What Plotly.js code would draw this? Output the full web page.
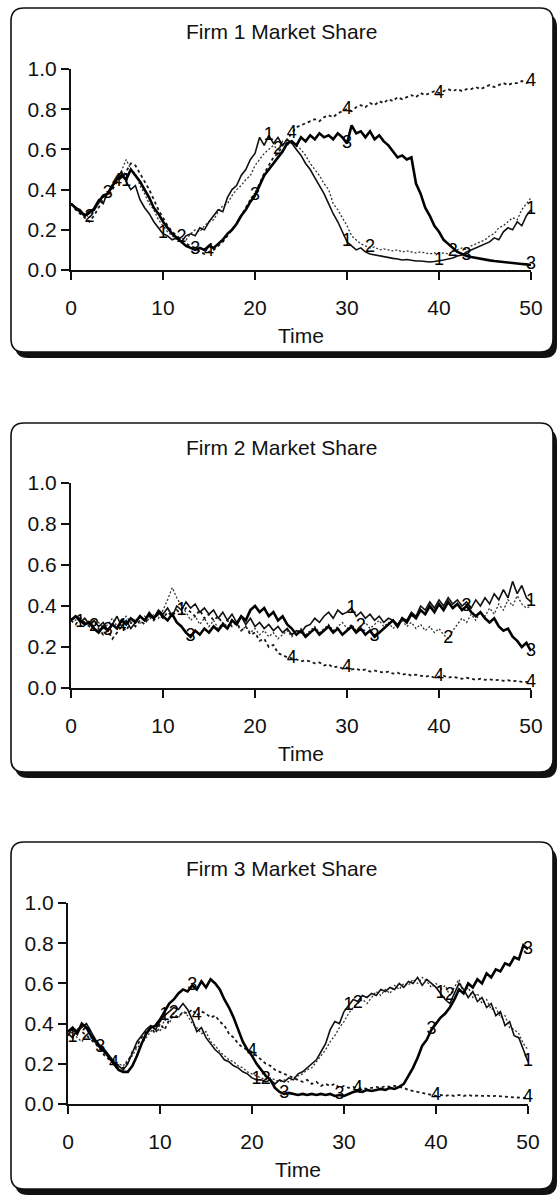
<!DOCTYPE html>
<html><head><meta charset="utf-8">
<script src="https://cdn.plot.ly/plotly-3.0.1.min.js"></script>
<style>html,body{margin:0;padding:0;background:#fff}#chart{width:558px;height:1195px}</style>
</head><body><div id="chart"></div>
<script>
// ---------- DATA ----------
const time = Array.from({length: 101}, (_, i) => i / 2); // 0, 0.5, ... 50
const xTickVals = [0, 10, 20, 30, 40, 50];
const yTickVals = [0, 0.2, 0.4, 0.6, 0.8, 1.0];
const panelTitles = ['Firm 1 Market Share', 'Firm 2 Market Share', 'Firm 3 Market Share'];
const xAxisTitle = 'Time';
const seriesNames = ['1', '2', '3', '4'];

// Firm 1 market share, runs 1-4
const firm1Run1 = [0.33,0.31,0.30,0.27,0.28,0.31,0.35,0.33,0.39,0.41,
  0.46,0.49,0.44,0.40,0.42,0.35,0.31,0.28,0.24,0.21,
  0.18,0.17,0.15,0.16,0.14,0.17,0.18,0.17,0.21,0.20,
  0.24,0.27,0.30,0.29,0.36,0.40,0.42,0.47,0.50,0.55,
  0.58,0.66,0.62,0.67,0.63,0.66,0.62,0.65,0.63,0.60,
  0.57,0.53,0.50,0.46,0.42,0.38,0.33,0.28,0.24,0.19,
  0.14,0.12,0.10,0.11,0.09,0.08,0.075,0.07,0.065,0.06,
  0.058,0.055,0.05,0.052,0.048,0.045,0.045,0.042,0.04,0.042,
  0.045,0.05,0.055,0.06,0.07,0.075,0.09,0.10,0.11,0.12,
  0.13,0.14,0.16,0.15,0.19,0.21,0.20,0.24,0.22,0.27,
  0.30];
const firm1Run2 = [0.33,0.30,0.29,0.28,0.26,0.30,0.33,0.36,0.38,0.42,
  0.44,0.50,0.55,0.50,0.48,0.42,0.38,0.33,0.30,0.25,
  0.22,0.19,0.17,0.15,0.16,0.15,0.18,0.20,0.19,0.22,
  0.24,0.25,0.29,0.32,0.33,0.37,0.40,0.42,0.45,0.47,
  0.52,0.55,0.58,0.60,0.62,0.60,0.64,0.62,0.64,0.62,
  0.60,0.57,0.53,0.50,0.47,0.43,0.40,0.33,0.30,0.26,
  0.22,0.17,0.15,0.13,0.12,0.11,0.115,0.10,0.105,0.10,
  0.095,0.10,0.09,0.095,0.09,0.085,0.09,0.085,0.08,0.085,
  0.08,0.085,0.08,0.09,0.10,0.11,0.10,0.12,0.13,0.14,
  0.15,0.17,0.18,0.21,0.22,0.24,0.26,0.25,0.30,0.33,
  0.36];
const firm1Run3 = [0.33,0.31,0.29,0.27,0.29,0.30,0.34,0.37,0.38,0.42,
  0.45,0.47,0.45,0.50,0.47,0.44,0.40,0.36,0.31,0.28,
  0.24,0.21,0.18,0.16,0.14,0.12,0.11,0.10,0.11,0.10,
  0.12,0.11,0.13,0.15,0.18,0.20,0.23,0.27,0.30,0.34,
  0.37,0.42,0.47,0.50,0.53,0.56,0.59,0.63,0.64,0.62,
  0.66,0.64,0.67,0.65,0.68,0.66,0.67,0.65,0.68,0.66,
  0.63,0.72,0.68,0.69,0.66,0.69,0.65,0.67,0.64,0.62,
  0.59,0.56,0.57,0.55,0.56,0.43,0.38,0.31,0.27,0.22,
  0.19,0.15,0.13,0.11,0.09,0.08,0.07,0.065,0.06,0.055,
  0.05,0.048,0.045,0.042,0.04,0.038,0.035,0.033,0.03,0.028,
  0.025];
const firm1Run4 = [0.33,0.30,0.28,0.26,0.24,0.27,0.31,0.35,0.37,0.40,
  0.44,0.46,0.49,0.53,0.52,0.48,0.44,0.40,0.35,0.30,
  0.26,0.22,0.19,0.17,0.15,0.13,0.12,0.11,0.09,0.08,
  0.09,0.10,0.12,0.14,0.17,0.20,0.23,0.27,0.31,0.35,
  0.38,0.43,0.48,0.52,0.56,0.58,0.62,0.65,0.68,0.71,
  0.72,0.73,0.74,0.75,0.74,0.76,0.77,0.76,0.78,0.79,
  0.80,0.79,0.81,0.82,0.81,0.83,0.82,0.84,0.83,0.85,
  0.84,0.86,0.85,0.86,0.87,0.86,0.88,0.87,0.88,0.89,
  0.88,0.89,0.90,0.89,0.90,0.89,0.90,0.90,0.91,0.90,
  0.91,0.92,0.91,0.92,0.93,0.92,0.93,0.93,0.94,0.93,
  0.94];

// Firm 2 market share, runs 1-4
const firm2Run1 = [0.33,0.35,0.32,0.34,0.31,0.33,0.30,0.32,0.28,0.31,
  0.35,0.30,0.33,0.29,0.32,0.35,0.33,0.37,0.34,0.38,
  0.36,0.39,0.35,0.40,0.38,0.42,0.39,0.41,0.37,0.39,
  0.36,0.38,0.34,0.37,0.33,0.36,0.32,0.35,0.31,0.34,
  0.30,0.32,0.29,0.31,0.28,0.30,0.27,0.29,0.26,0.28,
  0.27,0.30,0.31,0.34,0.32,0.35,0.37,0.34,0.38,0.36,
  0.37,0.39,0.35,0.37,0.34,0.36,0.33,0.35,0.32,0.34,
  0.33,0.31,0.34,0.33,0.37,0.35,0.40,0.38,0.42,0.39,
  0.43,0.40,0.44,0.41,0.43,0.40,0.42,0.39,0.43,0.40,
  0.44,0.41,0.46,0.43,0.48,0.44,0.52,0.46,0.50,0.44,
  0.42];
const firm2Run2 = [0.34,0.33,0.35,0.31,0.33,0.30,0.32,0.29,0.31,0.34,
  0.30,0.33,0.35,0.32,0.34,0.31,0.35,0.33,0.36,0.34,
  0.38,0.43,0.49,0.44,0.40,0.37,0.33,0.35,0.31,0.34,
  0.30,0.33,0.29,0.32,0.30,0.33,0.31,0.28,0.30,0.27,
  0.29,0.26,0.28,0.25,0.27,0.24,0.26,0.28,0.25,0.27,
  0.29,0.26,0.28,0.30,0.27,0.29,0.31,0.28,0.30,0.32,
  0.29,0.31,0.28,0.30,0.32,0.29,0.31,0.33,0.30,0.32,
  0.29,0.31,0.33,0.30,0.32,0.29,0.31,0.28,0.30,0.27,
  0.29,0.26,0.24,0.28,0.31,0.34,0.32,0.36,0.33,0.37,
  0.35,0.39,0.36,0.41,0.38,0.43,0.40,0.45,0.41,0.39,
  0.40];
const firm2Run3 = [0.33,0.35,0.33,0.31,0.32,0.29,0.27,0.30,0.28,0.31,
  0.29,0.33,0.31,0.34,0.32,0.35,0.33,0.36,0.34,0.37,
  0.35,0.33,0.36,0.32,0.30,0.27,0.25,0.28,0.26,0.29,
  0.27,0.30,0.28,0.31,0.29,0.33,0.31,0.35,0.33,0.38,
  0.40,0.37,0.39,0.35,0.37,0.33,0.35,0.31,0.29,0.26,
  0.28,0.25,0.27,0.29,0.26,0.28,0.30,0.27,0.29,0.26,
  0.28,0.30,0.27,0.29,0.26,0.28,0.25,0.27,0.29,0.31,
  0.33,0.30,0.34,0.32,0.36,0.34,0.38,0.36,0.40,0.37,
  0.41,0.38,0.42,0.39,0.41,0.38,0.40,0.37,0.35,0.37,
  0.34,0.32,0.34,0.30,0.28,0.29,0.25,0.23,0.20,0.22,
  0.18];
const firm2Run4 = [0.33,0.31,0.34,0.32,0.30,0.33,0.29,0.26,0.28,0.24,
  0.27,0.30,0.28,0.32,0.30,0.33,0.31,0.35,0.33,0.36,
  0.34,0.37,0.35,0.38,0.36,0.39,0.37,0.35,0.38,0.34,
  0.36,0.33,0.35,0.31,0.33,0.30,0.32,0.28,0.30,0.26,
  0.27,0.23,0.24,0.20,0.21,0.17,0.16,0.15,0.145,0.14,
  0.13,0.135,0.13,0.12,0.125,0.11,0.115,0.10,0.105,0.095,
  0.10,0.09,0.095,0.085,0.09,0.08,0.085,0.08,0.075,0.08,
  0.07,0.075,0.065,0.07,0.06,0.065,0.06,0.055,0.06,0.05,
  0.055,0.06,0.05,0.055,0.05,0.045,0.05,0.045,0.04,0.045,
  0.04,0.042,0.038,0.04,0.035,0.038,0.033,0.035,0.03,0.03,
  0.028];

// Firm 3 market share, runs 1-4
const firm3Run1 = [0.35,0.33,0.37,0.38,0.40,0.36,0.32,0.29,0.27,0.24,
  0.21,0.19,0.17,0.20,0.26,0.31,0.34,0.37,0.39,0.37,
  0.41,0.44,0.46,0.48,0.47,0.50,0.47,0.42,0.36,0.38,
  0.33,0.30,0.27,0.25,0.22,0.21,0.19,0.18,0.16,0.15,
  0.13,0.12,0.12,0.11,0.12,0.10,0.12,0.11,0.13,0.12,
  0.15,0.16,0.18,0.20,0.22,0.26,0.30,0.37,0.41,0.40,
  0.46,0.49,0.52,0.51,0.54,0.53,0.55,0.54,0.57,0.56,
  0.58,0.57,0.60,0.58,0.61,0.60,0.63,0.59,0.62,0.60,
  0.58,0.55,0.52,0.50,0.55,0.60,0.57,0.53,0.56,0.51,
  0.53,0.48,0.50,0.44,0.46,0.39,0.41,0.34,0.33,0.27,
  0.21];
const firm3Run2 = [0.34,0.36,0.33,0.31,0.34,0.33,0.30,0.28,0.25,0.23,
  0.22,0.20,0.19,0.22,0.24,0.28,0.30,0.33,0.36,0.39,
  0.36,0.42,0.40,0.45,0.43,0.46,0.44,0.40,0.38,0.35,
  0.36,0.31,0.29,0.26,0.24,0.22,0.21,0.19,0.18,0.16,
  0.15,0.14,0.13,0.12,0.13,0.12,0.11,0.12,0.11,0.13,
  0.14,0.15,0.17,0.18,0.21,0.24,0.27,0.31,0.34,0.38,
  0.41,0.45,0.48,0.50,0.52,0.50,0.53,0.56,0.54,0.57,
  0.55,0.59,0.57,0.60,0.59,0.62,0.60,0.63,0.61,0.58,
  0.60,0.57,0.59,0.54,0.58,0.62,0.55,0.58,0.53,0.55,
  0.50,0.52,0.47,0.48,0.43,0.44,0.38,0.37,0.35,0.30,
  0.27];
const firm3Run3 = [0.36,0.38,0.35,0.40,0.38,0.34,0.31,0.28,0.26,0.23,
  0.20,0.17,0.16,0.16,0.19,0.24,0.30,0.35,0.38,0.39,
  0.42,0.46,0.50,0.52,0.55,0.57,0.56,0.59,0.57,0.61,
  0.58,0.62,0.60,0.57,0.52,0.48,0.43,0.37,0.31,0.27,
  0.24,0.20,0.17,0.14,0.12,0.08,0.06,0.05,0.055,0.05,
  0.045,0.05,0.045,0.05,0.045,0.05,0.045,0.05,0.04,0.045,
  0.04,0.05,0.06,0.065,0.06,0.07,0.065,0.07,0.075,0.07,
  0.08,0.075,0.085,0.10,0.14,0.18,0.23,0.29,0.32,0.37,
  0.40,0.43,0.45,0.48,0.52,0.57,0.55,0.60,0.58,0.62,
  0.60,0.65,0.63,0.67,0.66,0.70,0.69,0.73,0.72,0.79,
  0.77];
const firm3Run4 = [0.35,0.36,0.38,0.36,0.34,0.32,0.30,0.27,0.24,0.22,
  0.20,0.18,0.18,0.21,0.26,0.29,0.33,0.36,0.38,0.35,
  0.40,0.37,0.42,0.44,0.43,0.46,0.45,0.47,0.44,0.46,
  0.45,0.43,0.44,0.41,0.39,0.35,0.33,0.30,0.28,0.27,
  0.26,0.24,0.22,0.20,0.19,0.17,0.16,0.15,0.14,0.13,
  0.12,0.11,0.12,0.10,0.11,0.09,0.10,0.09,0.10,0.08,
  0.09,0.08,0.085,0.075,0.08,0.075,0.08,0.085,0.08,0.09,
  0.085,0.09,0.085,0.08,0.07,0.065,0.06,0.055,0.05,0.045,
  0.04,0.045,0.04,0.045,0.04,0.045,0.04,0.045,0.04,0.042,
  0.04,0.042,0.038,0.04,0.038,0.036,0.035,0.035,0.033,0.03,
  0.03];

// times at which each run's number label sits on its line
const firm1LabelTimes = [[6, 10, 21.5, 30, 40, 50], [2, 12, 22.5, 32.5, 41.5], [4, 13.5, 20, 30, 43, 50], [5, 15, 24, 30, 40, 50]];
const firm2LabelTimes = [[1, 12, 30.5, 50], [2.5, 31.5, 41], [4, 13, 33, 43, 50], [5.5, 24, 30, 40, 50]];
const firm3LabelTimes = [[0.5, 10.5, 20.5, 30.5, 40.5, 50], [2, 11.5, 21.5, 31.5, 41.5], [3.5, 13.5, 23.5, 29.5, 39.5, 50], [5, 14, 20, 31.5, 40, 50]];

// ---------- LAYOUT HELPERS ----------
const W = 558, H = 1195;
const FONT = 'Liberation Sans, Arial, Helvetica, sans-serif';
const fx = px => px / W;
const fy = py => 1 - py / H;

const panels = [
  {runs: [firm1Run1, firm1Run2, firm1Run3, firm1Run4], labels: firm1LabelTimes, x: [71, 531], y: [270, 69], titleY: 32, box: [11, 8, 553, 352]},
  {runs: [firm2Run1, firm2Run2, firm2Run3, firm2Run4], labels: firm2LabelTimes, x: [71, 531], y: [688, 483], titleY: 448, box: [11, 423, 553, 772]},
  {runs: [firm3Run1, firm3Run2, firm3Run3, firm3Run4], labels: firm3LabelTimes, x: [68, 528], y: [1104, 903], titleY: 868, box: [11, 842, 553, 1189]}
];

const lineStyles = [
  {color: '#111111', width: 1.6, dash: 'solid'},
  {color: '#333333', width: 1.3, dash: '2px,2px'},
  {color: '#000000', width: 2.6, dash: 'solid'},
  {color: '#1a1a1a', width: 1.8, dash: 'dot'}
];
const drawOrder = [3, 1, 0, 2];

function rr(x0, y0, x1, y1, r) {
  const P = (x, y) => fx(x).toFixed(5) + ',' + fy(y).toFixed(5);
  return `M${P(x0 + r, y0)} L${P(x1 - r, y0)} Q${P(x1, y0)} ${P(x1, y0 + r)} L${P(x1, y1 - r)} Q${P(x1, y1)} ${P(x1 - r, y1)} L${P(x0 + r, y1)} Q${P(x0, y1)} ${P(x0, y1 - r)} L${P(x0, y0 + r)} Q${P(x0, y0)} ${P(x0 + r, y0)} Z`;
}

const data = [];
const shapes = [];
const annotations = [];
const layout = {
  width: W, height: H,
  margin: {l: 0, r: 0, t: 0, b: 0},
  paper_bgcolor: '#ffffff',
  plot_bgcolor: 'rgba(0,0,0,0)',
  showlegend: false,
  font: {family: FONT, color: '#111', size: 21},
  shapes: shapes,
  annotations: annotations
};

panels.forEach((p, k) => {
  const xa = k === 0 ? 'x' : 'x' + (k + 1);
  const ya = k === 0 ? 'y' : 'y' + (k + 1);
  const xKey = k === 0 ? 'xaxis' : 'xaxis' + (k + 1);
  const yKey = k === 0 ? 'yaxis' : 'yaxis' + (k + 1);

  layout[xKey] = {
    domain: [fx(p.x[0]), fx(p.x[1])], range: [0, 50], anchor: ya,
    showline: true, linewidth: 2, linecolor: '#111', mirror: false,
    ticks: 'outside', ticklen: 8, tickwidth: 2, tickcolor: '#111',
    tickvals: xTickVals, showgrid: false, zeroline: false, fixedrange: true,
    tickfont: {family: FONT, size: 21, color: '#111'}, ticklabelstandoff: 10,
    title: {text: xAxisTitle, font: {family: FONT, size: 21, color: '#111'}, standoff: 10},
    automargin: false
  };
  layout[yKey] = {
    domain: [fy(p.y[0]), fy(p.y[1])], range: [0, 1], anchor: xa,
    showline: true, linewidth: 2, linecolor: '#111',
    ticks: 'outside', ticklen: 8, tickwidth: 2, tickcolor: '#111',
    tickvals: yTickVals, tickformat: '.1f', showgrid: false, zeroline: false, fixedrange: true,
    tickfont: {family: FONT, size: 21, color: '#111'}, ticklabelstandoff: 0,
    automargin: false
  };

  // framed box with drop shadow
  const [bx0, by0, bx1, by1] = p.box;
  shapes.push({type: 'path', xref: 'paper', yref: 'paper', layer: 'below', path: rr(bx0 + 4, by0 + 6, bx1 + 4, by1 + 6, 13), fillcolor: '#111', line: {width: 0}});
  shapes.push({type: 'path', xref: 'paper', yref: 'paper', layer: 'below', path: rr(bx0, by0, bx1, by1, 13), fillcolor: '#ffffff', line: {color: '#111', width: 1.6}});

  annotations.push({xref: 'paper', yref: 'paper', x: fx(281), y: fy(p.titleY), xanchor: 'center', yanchor: 'middle',
    text: panelTitles[k], showarrow: false, font: {family: FONT, size: 21, color: '#111'}});

  drawOrder.forEach(s => {
    data.push({
      type: 'scatter', mode: 'lines', x: time, y: p.runs[s], xaxis: xa, yaxis: ya,
      line: {color: lineStyles[s].color, width: lineStyles[s].width, dash: lineStyles[s].dash, shape: 'linear'},
      hoverinfo: 'skip', name: seriesNames[s]
    });
  });
  // number labels riding on each run
  for (let s = 0; s < 4; s++) {
    const lx = p.labels[s];
    const ly = lx.map(t => p.runs[s][time.indexOf(t)]);
    data.push({
      type: 'scatter', mode: 'text', x: lx, y: ly, xaxis: xa, yaxis: ya,
      text: lx.map(() => seriesNames[s]), textposition: 'middle center',
      textfont: {family: FONT, size: 18, color: '#000000'}, hoverinfo: 'skip', cliponaxis: false
    });
  }
});

Plotly.newPlot('chart', data, layout, {staticPlot: true, displayModeBar: false});
</script>
</body></html>
